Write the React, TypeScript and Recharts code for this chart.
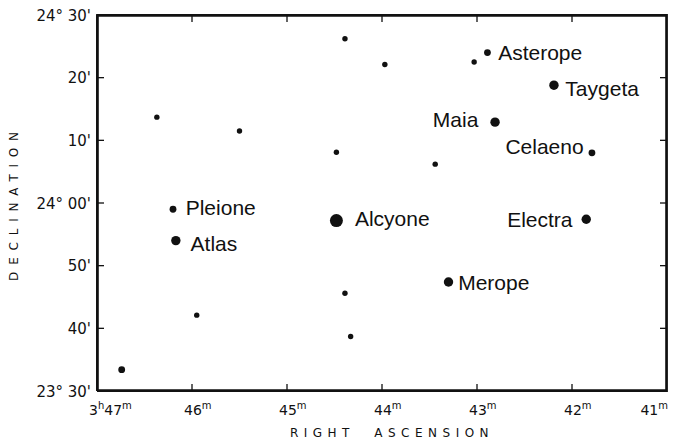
import React from 'react';
import { ScatterChart, Scatter, XAxis, YAxis, ReferenceArea } from 'recharts';

// Right ascension in minutes of time (3h xx m), declination in arcminutes from +24°00'
const raTicks = [47, 46, 45, 44, 43, 42, 41];
const raTickLabels = ['3h47m', '46m', '45m', '44m', '43m', '42m', '41m'];
const decTicks = [-30, -20, -10, 0, 10, 20, 30];
const decTickLabels = ["23° 30'", "40'", "50'", "24° 00'", "10'", "20'", "24° 30'"];

// brightness classes
const brightestStars = [{ name: 'Alcyone', ra: 44.48, dec: -2.8 }];
const brightStars = [
  { name: 'Atlas', ra: 46.17, dec: -6.0 },
  { name: 'Electra', ra: 41.85, dec: -2.6 },
  { name: 'Maia', ra: 42.81, dec: 12.9 },
  { name: 'Merope', ra: 43.3, dec: -12.6 },
  { name: 'Taygeta', ra: 42.19, dec: 18.8 },
];
const mediumStars = [
  { name: 'Celaeno', ra: 41.79, dec: 8.0 },
  { name: 'Pleione', ra: 46.2, dec: -1.0 },
  { name: 'Asterope', ra: 42.89, dec: 24.0 },
  { name: '', ra: 46.74, dec: -26.6 },
];
const faintStars = [
  { name: '', ra: 44.39, dec: 26.2 },
  { name: '', ra: 43.97, dec: 22.1 },
  { name: '', ra: 43.03, dec: 22.5 },
  { name: '', ra: 43.44, dec: 6.2 },
  { name: '', ra: 46.37, dec: 13.7 },
  { name: '', ra: 45.5, dec: 11.5 },
  { name: '', ra: 44.48, dec: 8.1 },
  { name: '', ra: 44.39, dec: -14.4 },
  { name: '', ra: 44.33, dec: -21.3 },
  { name: '', ra: 45.95, dec: -17.9 },
];

const RA_MIN = 41;
const RA_MAX = 47;
const DEC_MIN = -30;
const DEC_MAX = 30;

// label placement (style)
const labelPlacement: Record<string, { anchor: 'start' | 'end'; dx: number; dy: number }> = {
  Asterope: { anchor: 'start', dx: 10.7, dy: 7.5 },
  Taygeta: { anchor: 'start', dx: 11.4, dy: 10.5 },
  Maia: { anchor: 'end', dx: -16.7, dy: 5.2 },
  Celaeno: { anchor: 'end', dx: -8.3, dy: 0.8 },
  Electra: { anchor: 'end', dx: -13.7, dy: 7.5 },
  Pleione: { anchor: 'start', dx: 12.7, dy: 6.2 },
  Atlas: { anchor: 'start', dx: 14.7, dy: 10.8 },
  Alcyone: { anchor: 'start', dx: 18.5, dy: 5.7 },
  Merope: { anchor: 'start', dx: 9.7, dy: 8.5 },
};

const INK = '#111';
const AXIS_FONT = '"DejaVu Sans", sans-serif';
const LABEL_FONT = '"Liberation Sans", Arial, sans-serif';

// frame line thickness in data units (about 1.8 px)
const FRAME_RA = (1.8 * (RA_MAX - RA_MIN)) / 570;
const FRAME_DEC = (1.8 * (DEC_MAX - DEC_MIN)) / 376;

// tick-mark anchor points built from the tick arrays
const innerRa = raTicks.filter((t) => t > RA_MIN && t < RA_MAX);
const innerDec = decTicks.filter((t) => t > DEC_MIN && t < DEC_MAX);
const tickMarks = [
  ...innerRa.map((t) => ({ ra: t, dec: DEC_MIN, side: 'bottom' })),
  ...innerRa.map((t) => ({ ra: t, dec: DEC_MAX, side: 'top' })),
  ...innerDec.map((t) => ({ ra: RA_MAX, dec: t, side: 'left' })),
  ...innerDec.map((t) => ({ ra: RA_MIN, dec: t, side: 'right' })),
];
const frameCorners = [
  { ra: RA_MAX, dec: DEC_MIN },
  { ra: RA_MIN, dec: DEC_MIN },
  { ra: RA_MIN, dec: DEC_MAX },
  { ra: RA_MAX, dec: DEC_MAX },
  { ra: RA_MAX, dec: DEC_MIN },
];

const makeStarShape = (r: number) => (props: any) => {
  const { cx, cy, payload } = props;
  if (cx == null || cy == null) return <g />;
  const name = payload?.name || '';
  const p = labelPlacement[name];
  return (
    <g>
      <circle cx={cx} cy={cy} r={r} fill={INK} />
      {name && p ? (
        <text
          x={cx + p.dx}
          y={cy + p.dy}
          textAnchor={p.anchor}
          fontFamily={LABEL_FONT}
          fontSize={21}
          fill={INK}
        >
          {name}
        </text>
      ) : null}
    </g>
  );
};

const TICK_LEN = 7;
const TICK_W = 1.3;
const tickMarkShape = (props: any) => {
  const { cx, cy, payload } = props;
  if (cx == null || cy == null) return <g />;
  const side = payload?.side;
  let x = cx - TICK_W / 2;
  let y = cy - TICK_W / 2;
  let w = TICK_W;
  let h = TICK_W;
  if (side === 'bottom') { y = cy - TICK_LEN; h = TICK_LEN; }
  if (side === 'top') { y = cy; h = TICK_LEN; }
  if (side === 'left') { x = cx; w = TICK_LEN; }
  if (side === 'right') { x = cx - TICK_LEN; w = TICK_LEN; }
  return <rect x={x} y={y} width={w} height={h} fill={INK} />;
};

const RaTick = (props: any) => {
  const { x, y, payload } = props;
  const i = raTicks.indexOf(payload.value);
  const label = i >= 0 ? raTickLabels[i] : '';
  const parts: React.ReactNode[] = [];
  let prevSup = false;
  Array.from(label).forEach((ch, k) => {
    const isSup = /[a-z]/.test(ch);
    const dy = isSup && !prevSup ? -6 : !isSup && prevSup ? 6 : 0;
    parts.push(
      <tspan key={k} fontSize={isSup ? 10 : 14} dy={dy}>
        {ch}
      </tspan>
    );
    prevSup = isSup;
  });
  const isLast = i === raTicks.length - 1;
  return (
    <text
      x={isLast ? x + 1 : x - 8}
      y={y + 28}
      textAnchor={isLast ? 'end' : 'start'}
      fontFamily={AXIS_FONT}
      fill={INK}
      fontSize={14}
    >
      {parts}
    </text>
  );
};

const DecTick = (props: any) => {
  const { x, y, payload } = props;
  const i = decTicks.indexOf(payload.value);
  const label = i >= 0 ? decTickLabels[i] : '';
  return (
    <text x={x - 10} y={y + 5.5} textAnchor="end" fontFamily={AXIS_FONT} fill={INK} fontSize={15}>
      {label}
    </text>
  );
};

const NoTick = () => <g />;
const NoPoint = () => <g />;

export default function App() {
  return (
    <div style={{ position: 'absolute', left: 0, top: 0, width: 676, height: 442, background: '#fff' }}>
      <ScatterChart width={676} height={442} margin={{ top: 14, right: 8, bottom: 0, left: 0 }}>
        <XAxis
          xAxisId="bottom"
          type="number"
          dataKey="ra"
          domain={[RA_MIN, RA_MAX]}
          ticks={raTicks}
          reversed
          orientation="bottom"
          height={51}
          tickSize={-6}
          tickMargin={2}
          tick={RaTick}
          axisLine={{ stroke: INK, strokeWidth: 1.8 }}
          tickLine={false}
          interval={0}
        />
        <XAxis
          xAxisId="top"
          type="number"
          dataKey="ra"
          domain={[RA_MIN, RA_MAX]}
          ticks={raTicks}
          reversed
          orientation="top"
          height={1}
          tick={NoTick}
          axisLine={false}
          tickLine={false}
          interval={0}
        />
        <YAxis
          yAxisId="left"
          type="number"
          dataKey="dec"
          domain={[DEC_MIN, DEC_MAX]}
          ticks={decTicks}
          orientation="left"
          width={97}
          tickSize={-6}
          tickMargin={2}
          tick={DecTick}
          axisLine={{ stroke: INK, strokeWidth: 1.8 }}
          tickLine={false}
          interval={0}
        />
        <YAxis
          yAxisId="right"
          type="number"
          dataKey="dec"
          domain={[DEC_MIN, DEC_MAX]}
          ticks={decTicks}
          orientation="right"
          width={1}
          tick={NoTick}
          axisLine={false}
          tickLine={false}
          interval={0}
        />

        {/* frame as thin filled bands */}
        <ReferenceArea xAxisId="bottom" yAxisId="left" x1={RA_MAX} x2={RA_MAX - FRAME_RA} y1={DEC_MIN} y2={DEC_MAX} fill={INK} fillOpacity={1} ifOverflow="visible" />
        <ReferenceArea xAxisId="bottom" yAxisId="left" x1={RA_MIN} x2={RA_MIN + FRAME_RA} y1={DEC_MIN} y2={DEC_MAX} fill={INK} fillOpacity={1} ifOverflow="visible" />
        <ReferenceArea xAxisId="bottom" yAxisId="left" x1={RA_MIN} x2={RA_MAX} y1={DEC_MIN} y2={DEC_MIN + FRAME_DEC} fill={INK} fillOpacity={1} ifOverflow="visible" />
        <ReferenceArea xAxisId="bottom" yAxisId="left" x1={RA_MIN} x2={RA_MAX} y1={DEC_MAX} y2={DEC_MAX - FRAME_DEC} fill={INK} fillOpacity={1} ifOverflow="visible" />

        <Scatter
          xAxisId="bottom"
          yAxisId="left"
          data={frameCorners}
          line={{ stroke: INK, strokeWidth: 1.8 }}
          lineType="joint"
          shape={NoPoint}
          isAnimationActive={false}
        />
        <Scatter xAxisId="bottom" yAxisId="left" data={tickMarks} shape={tickMarkShape} isAnimationActive={false} />

        <Scatter xAxisId="bottom" yAxisId="left" data={faintStars} shape={makeStarShape(2.7)} isAnimationActive={false} />
        <Scatter xAxisId="bottom" yAxisId="left" data={mediumStars} shape={makeStarShape(3.4)} isAnimationActive={false} />
        <Scatter xAxisId="bottom" yAxisId="left" data={brightStars} shape={makeStarShape(4.7)} isAnimationActive={false} />
        <Scatter xAxisId="bottom" yAxisId="left" data={brightestStars} shape={makeStarShape(6.5)} isAnimationActive={false} />
        <text
          x={392}
          y={437}
          textAnchor="middle"
          fontFamily={AXIS_FONT}
          fontSize={12}
          letterSpacing={5.5}
          wordSpacing={10}
          fill={INK}
        >
          RIGHT ASCENSION
        </text>
        <text
          x={14}
          y={203}
          transform="rotate(-90, 14, 203)"
          textAnchor="middle"
          dominantBaseline="central"
          fontFamily={AXIS_FONT}
          fontSize={12}
          letterSpacing={6.8}
          fill={INK}
        >
          DECLINATION
        </text>
      </ScatterChart>
    </div>
  );
}
